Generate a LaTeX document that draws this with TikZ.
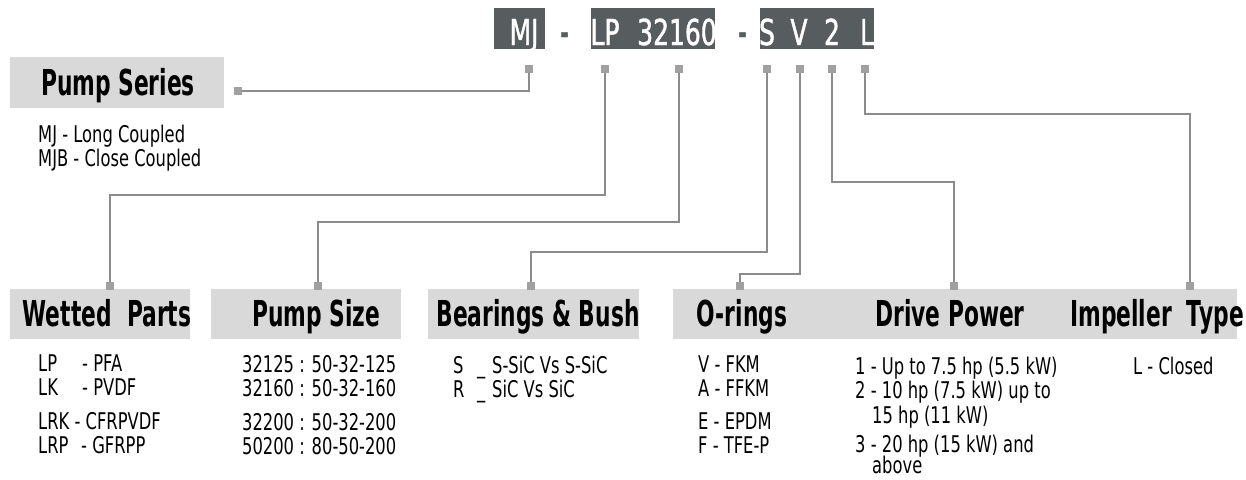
\documentclass[tikz,border=0pt]{standalone}
\usepackage{fontspec}
\setmainfont[FakeStretch=0.71]{DejaVu Sans}
\newfontfamily\headfont[FakeStretch=0.61]{DejaVu Sans}
\newfontfamily\codefont[FakeStretch=0.7,FakeBold=1.2]{DejaVu Sans}
\usetikzlibrary{positioning}
\definecolor{codegray}{HTML}{575C5E}
\definecolor{bandgray}{HTML}{D9D9D9}
\definecolor{linegray}{HTML}{8C8C8C}
\definecolor{sqgray}{HTML}{A0A0A0}

\begin{document}
\begin{tikzpicture}[x=1pt,y=-1pt,
  body/.style={anchor=north west, align=left, inner sep=0pt, font=\fontsize{23}{24}\selectfont},
  head/.style={anchor=base, inner sep=0pt, font=\headfont\bfseries\fontsize{35.7}{36}\selectfont},
  code/.style={anchor=base, inner sep=0pt, text=white, font=\codefont\fontsize{35.7}{36}\selectfont},
  band/.style={fill=bandgray, inner sep=0pt, minimum height=50pt},
  codebox/.style={fill=codegray, inner sep=0pt, minimum height=41pt},
  sq/.style={fill=sqgray, inner sep=0pt, minimum size=8pt},
  link/.style={draw=linegray, line width=1.3pt}]
  \useasboundingbox (0,0) rectangle (1246,479);
  % model code
  \node[codebox, minimum width=51pt] (bmj) at (519.5,28.5) {};
  \node[codebox, minimum width=124pt] (blp) at (653,28.5) {};
  \node[codebox, minimum width=114pt] (bsv) at (817,28.5) {};
  \node[code] (cmj) at (524,45) {MJ};
  \node[code] (clp) at (605,45) {LP};
  \node[code] (csz) at (677,45) {32160};
  \node[code] (cs) at (767,45) {S};
  \node[code] (cv) at (799,45) {V};
  \node[code] (c2) at (832,45) {2};
  \node[code] (cl) at (867,45) {L};
  \node[head, text=codegray] (d1) at (565,45) {-};
  \node[head, text=codegray] (d2) at (743,45) {-};
  % bands
  \node[band, minimum width=214pt, minimum height=51pt] (bps) at (117,82.5) {};
  \node[band, minimum width=180pt] (bwp) at (100,314) {};
  \node[band, minimum width=190pt] (bsz) at (306,314) {};
  \node[band, minimum width=211pt] (bbb) at (533.5,314) {};
  \node[band, minimum width=564pt] (btl) at (955,314) {};
  \node[head] (hps) at (118,95) {Pump Series};
  \node[head] (hwp) at (107,326) {Wetted\ \ Parts};
  \node[head] (hsz) at (316,326) {Pump Size};
  \node[head] (hbb) at (538,326) {Bearings \& Bush};
  \node[head] (hor) at (742,326) {O-rings};
  \node[head] (hdp) at (950,326) {Drive Power};
  \node[head] (hit) at (1157,326) {Impeller\ \ Type};
  % options
  \node[body] (tps) at (38,125) {MJ - Long Coupled\\MJB - Close Coupled};
  \node[body] (twp) at (38,355) {\makebox[44pt][l]{LP}- PFA\\\makebox[44pt][l]{LK}- PVDF\\[10pt]LRK - CFRPVDF\\\makebox[43pt][l]{LRP}- GFRPP};
  \node[body] (tsz) at (242,355) {32125 : 50-32-125\\32160 : 50-32-160\\[10pt]32200 : 50-32-200\\50200 : 80-50-200};
  \node[body] (tbb) at (453,356) {\makebox[24pt][l]{S}\makebox[15pt][l]{\_}S-SiC Vs S-SiC\\\makebox[24pt][l]{R}\makebox[15pt][l]{\_}SiC Vs SiC};
  \node[body] (tor) at (698,356) {V - FKM\\A - FFKM\\[9pt]E - EPDM\\F - TFE-P};
  \node[body] (tdp) at (855,357) {1 - Up to 7.5 hp (5.5 kW)\\2 - 10 hp (7.5 kW) up to\\[1pt]\hspace*{17pt}15 hp (11 kW)\\[5pt]3 - 20 hp (15 kW) and\\[-3pt]\hspace*{17pt}above};
  \node[body] (tit) at (1133,357) {L - Closed};
  % markers
  \node[sq] (m1) at (529,69) {};
  \node[sq] (m2) at (605,69) {};
  \node[sq] (m3) at (679,69) {};
  \node[sq] (m4) at (767,69) {};
  \node[sq] (m5) at (800,69) {};
  \node[sq] (m6) at (832,69) {};
  \node[sq] (m7) at (865,69) {};
  \node[sq] (p1) at (238,91) {};
  \node[sq] (p2) at (110,286) {};
  \node[sq] (p3) at (318,286) {};
  \node[sq] (p4) at (531,286) {};
  \node[sq] (p5) at (740,286) {};
  \node[sq] (p6) at (954,286) {};
  \node[sq] (p7) at (1190,286) {};
  % connectors
  \draw[link] (m1) |- (p1);
  \draw[link] (m2) -- ++(0,126) -| (p2);
  \draw[link] (m3) -- ++(0,153) -| (p3);
  \draw[link] (m4) -- ++(0,183) -| (p4);
  \draw[link] (m5) -- ++(0,205) -| (p5);
  \draw[link] (m6) -- ++(0,113) -| (p6);
  \draw[link] (m7) -- ++(0,45) -| (p7);
\end{tikzpicture}
\end{document}
